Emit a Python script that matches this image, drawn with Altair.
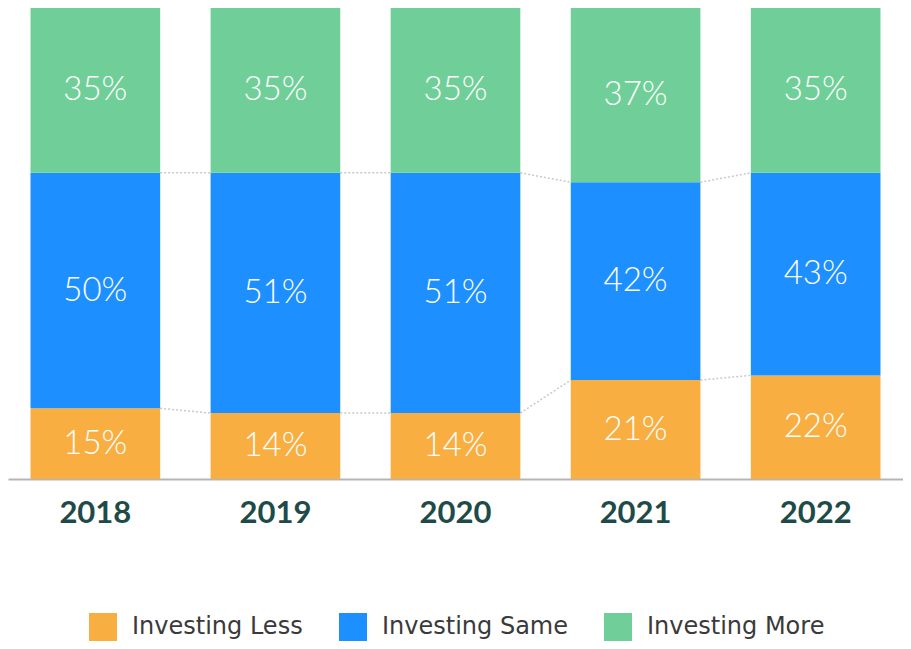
import altair as alt
import pandas as pd

years = ["2018", "2019", "2020", "2021", "2022"]
categories = ["Investing Less", "Investing Same", "Investing More"]
less = [15, 14, 14, 21, 22]
same = [50, 51, 51, 42, 43]
more = [35, 35, 35, 37, 35]
colors = ["#F9AE41", "#1E8FFF", "#70CF98"]

PAD_IN = 0.28
PAD_OUT = 0.125

rows = []
for i, y in enumerate(years):
    start = 0
    for k, (cat, vals) in enumerate(zip(categories, [less, same, more])):
        v = vals[i]
        rows.append({"year": y, "cat": cat, "order": k, "value": v,
                     "y0": start, "y1": start + v, "mid": start + v / 2,
                     "label": f"{v}%"})
        start += v
df = pd.DataFrame(rows)

# connectors between bars at segment boundaries (x in band-step units)
n = len(years)
span = n - PAD_IN + 2 * PAD_OUT
conn = []
b1 = [less[i] for i in range(n)]
b2 = [less[i] + same[i] for i in range(n)]
for bounds in (b1, b2):
    for i in range(n - 1):
        right_edge = PAD_OUT + i + (1 - PAD_IN)
        left_next = PAD_OUT + i + 1
        conn.append({"xa": right_edge, "xb": left_next,
                     "v": bounds[i], "v2": bounds[i + 1]})
cdf = pd.DataFrame(conn)

FONT = "Lato"
xscale = alt.Scale(domain=years, paddingInner=PAD_IN, paddingOuter=PAD_OUT)
yscale = alt.Scale(domain=[0, 100])

x_axis = alt.Axis(title=None, labelAngle=0, labelFontSize=31, labelFontWeight="bold",
                  labelColor="#1E4B48", labelFont=FONT, labelPadding=19, ticks=False,
                  domainColor="#B5B5B5", domainWidth=2)

bars = alt.Chart(df).mark_bar().encode(
    x=alt.X("year:N", scale=xscale, axis=x_axis),
    y=alt.Y("y0:Q", scale=yscale, axis=None),
    y2="y1:Q",
    color=alt.Color("cat:N", scale=alt.Scale(domain=categories, range=colors),
                    legend=alt.Legend(title=None, orient="none", legendX=81, legendY=605,
                                      direction="horizontal", symbolType="square",
                                      symbolSize=784, symbolStrokeWidth=0,
                                      labelFontSize=24, labelFont="DejaVu Sans",
                                      labelColor="#3A3A3A", labelOffset=15, labelLimit=400,
                                      columnPadding=36, symbolOpacity=1)),
)

texts = alt.Chart(df).mark_text(color="white", fontSize=33, font=FONT, fontWeight=300,
                                baseline="middle").encode(
    x=alt.X("year:N", scale=xscale),
    y=alt.Y("mid:Q", scale=yscale),
    text="label:N",
)

bar_layer = alt.layer(bars, texts)

lines = alt.Chart(cdf).mark_rule(color="#C9C9C9", strokeDash=[2, 2], strokeWidth=1.5).encode(
    x=alt.X("xa:Q", scale=alt.Scale(domain=[0, span], nice=False, zero=False), axis=None),
    x2="xb:Q",
    y=alt.Y("v:Q", scale=yscale, axis=None),
    y2="v2:Q",
)

chart = alt.layer(lines, bar_layer).resolve_scale(x="independent").properties(
    width=895, height=471, padding={"left": 0, "top": 0, "right": 0, "bottom": 0}
).configure_view(stroke=None)

chart.save("out.html", embed_options={"renderer": "svg", "actions": False})
